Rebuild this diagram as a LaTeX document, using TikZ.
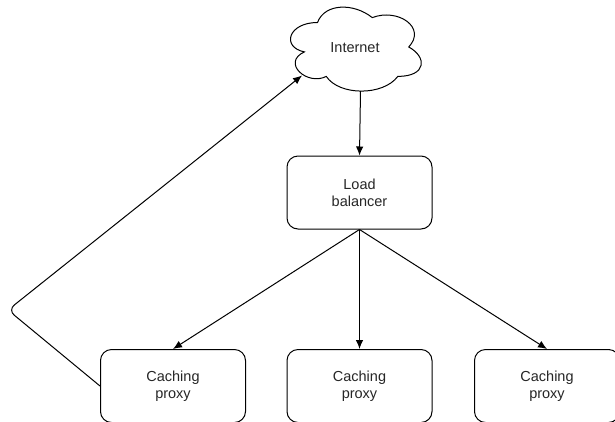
\documentclass[tikz,border=0pt]{standalone}
\usepackage{fontspec}
\setmainfont{Liberation Sans}
\usetikzlibrary{arrows.meta}
\tikzset{
  box/.style={draw, line width=1pt, rounded corners=11pt, minimum width=145pt, minimum height=73pt, inner sep=0pt, align=center, font=\fontsize{14.5}{17}\selectfont, text=black!85},
  conn/.style={draw, line width=1pt, -{Latex[length=9pt,width=7.5pt]}},
}
\begin{document}
\begin{tikzpicture}[x=1pt,y=-1pt]
\useasboundingbox (0,0) rectangle (615,421);
\clip (0,0) rectangle (615,421);
% cloud outline (draw.io cloud), box x0=281 y0=-2 w=146 h=98
\def\cx{281}\def\cy{-2}\def\cw{146}\def\ch{98}
\draw[line width=1pt, fill=white]
  ({\cx+0.25*\cw},{\cy+0.25*\ch})
  .. controls ({\cx+0.05*\cw},{\cy+0.25*\ch}) and ({\cx+0*\cw},{\cy+0.5*\ch}) .. ({\cx+0.16*\cw},{\cy+0.55*\ch})
  .. controls ({\cx+0*\cw},{\cy+0.66*\ch}) and ({\cx+0.18*\cw},{\cy+0.9*\ch}) .. ({\cx+0.31*\cw},{\cy+0.8*\ch})
  .. controls ({\cx+0.4*\cw},{\cy+1*\ch}) and ({\cx+0.7*\cw},{\cy+1*\ch}) .. ({\cx+0.8*\cw},{\cy+0.8*\ch})
  .. controls ({\cx+1*\cw},{\cy+0.8*\ch}) and ({\cx+1*\cw},{\cy+0.6*\ch}) .. ({\cx+0.875*\cw},{\cy+0.5*\ch})
  .. controls ({\cx+1*\cw},{\cy+0.3*\ch}) and ({\cx+0.8*\cw},{\cy+0.1*\ch}) .. ({\cx+0.625*\cw},{\cy+0.2*\ch})
  .. controls ({\cx+0.5*\cw},{\cy+0.05*\ch}) and ({\cx+0.3*\cw},{\cy+0.05*\ch}) .. cycle;
\node[font=\fontsize{14.5}{17}\selectfont, text=black!85] (inet) at (355,48) {Internet};
\coordinate (cloudS) at (360.5,91);
\coordinate (cloudSW) at (302,75.5);
\coordinate (bend) at (8,310);

\node[box] (lb) at (359.5,192.5) {Load\\balancer};
\node[box] (p1) at (173,386) {Caching\\proxy};
\node[box] (p2) at (359.5,386) {Caching\\proxy};
\node[box] (p3) at (547,386) {Caching\\proxy};

\draw[conn] (cloudS) -- (lb.north);
\draw[conn] (lb.south) -- (p1.north);
\draw[conn] (lb.south) -- (p2.north);
\draw[conn] (lb.south) -- (p3.north);
\draw[conn, rounded corners=8pt] (p1.west) -- (bend) -- (cloudSW);
\end{tikzpicture}
\end{document}
